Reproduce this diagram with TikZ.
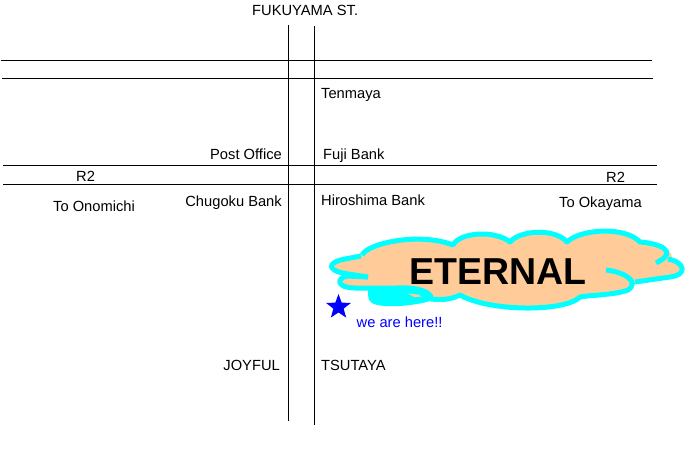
\documentclass[tikz,border=0pt]{standalone}
\usepackage{fontspec}
\setmainfont{Liberation Sans}
\usetikzlibrary{shapes.geometric}
\definecolor{peach}{RGB}{255,204,153}
\definecolor{aqua}{RGB}{0,255,255}
\definecolor{herebl}{RGB}{0,0,255}
\tikzset{
 road/.style={line width=1pt,black},
 lbl/.style={inner sep=0pt,anchor=base west,font=\fontsize{14.7}{16}\selectfont,text=black},
 lblr/.style={lbl,anchor=base east},
 rim/.style={draw=aqua,line width=5pt,line cap=butt,line join=round},
}
\begin{document}
\begin{tikzpicture}[x=1pt,y=-1pt]
\useasboundingbox (0,0) rectangle (697,474);
\fill[white] (0,0) rectangle (697,474);
% roads
\draw[road] (1,60.5) -- (652,60.5);
\draw[road] (2,78.5) -- (653,78.5);
\draw[road] (3,165.5) -- (657,165.5);
\draw[road] (3,184.5) -- (657,184.5);
\draw[road] (288.5,25) -- (288.5,421);
\draw[road] (314.5,26) -- (314.5,425);
% cloud body
\fill[peach] (345,273) .. controls (330,270) and (328,262) .. (345,259)
 -- (362,255) .. controls (368,243) and (420,232) .. (453,245)
 .. controls (460,232) and (495,230) .. (510,242)
 .. controls (520,230) and (555,228) .. (567,242)
 .. controls (580,229) and (625,226) .. (640,242)
 .. controls (655,243) and (672,248) .. (672,258)
 .. controls (685,262) and (688,275) .. (670,277)
 -- (635,283) .. controls (634,288) and (632,289) .. (628,290)
 .. controls (615,295) and (590,295) .. (580,297)
 .. controls (565,312) and (490,312) .. (460,295)
 .. controls (450,300) and (440,300) .. (431,298)
 .. controls (432,292) and (415,287) .. (397,288)
 -- (355,288) .. controls (338,288) and (335,280) .. (345,276) -- cycle;
% lump bottom left
\fill[aqua] (368,288) -- (398,287) .. controls (418,287) and (432,290) .. (433,300)
 .. controls (420,305) and (395,307) .. (385,306)
 .. controls (372,305) and (368,302) .. (368,295) -- cycle;
\fill[peach] (408,293.5) -- (418,294.5) -- (422,296.5) -- (414,297) -- cycle;
% cloud rims
\draw[rim] (368,277) -- (345,273.5) .. controls (326,270) and (328,262) .. (345,259)
 -- (361,256);
\draw[rim] (362,255) .. controls (368,243) and (420,232) .. (453,245)
 .. controls (460,232) and (495,230) .. (510,242)
 .. controls (520,230) and (555,228) .. (567,242)
 .. controls (580,229) and (625,226) .. (640,242)
 .. controls (655,243) and (682,250) .. (656,263);
\draw[rim] (668,259) .. controls (685,262) and (688,275) .. (670,277) -- (635,282);
\draw[rim] (606,270) .. controls (625,272) and (640,282) .. (628,290)
 .. controls (615,295) and (590,295) .. (580,297)
 .. controls (565,312) and (490,312) .. (460,295)
 .. controls (450,300) and (440,300) .. (431,299);
\draw[rim] (368,277) -- (347,276) .. controls (335,279) and (338,288) .. (355,288)
 -- (397,288) .. controls (415,287) and (432,291) .. (431,299);
% labels
\node[lbl] (fukuyama) at (252,15.5) {FUKUYAMA ST.};
\node[lbl] (tenmaya) at (321,98) {Tenmaya};
\node[lblr] (post) at (282,159) {Post Office};
\node[lbl] (fuji) at (323,159) {Fuji Bank};
\node[lbl] (r2l) at (76,181) {R2};
\node[lbl] (r2r) at (606,182) {R2};
\node[lbl] (onomichi) at (53,211) {To Onomichi};
\node[lblr] (chugoku) at (282,206) {Chugoku Bank};
\node[lbl] (hiroshima) at (321,205) {Hiroshima Bank};
\node[lbl] (okayama) at (559,207) {To Okayama};
\node[lblr] (joyful) at (280,370) {JOYFUL};
\node[lbl] (tsutaya) at (321,370) {TSUTAYA};
\node[lbl,font=\fontsize{37.5}{40}\selectfont\bfseries] (eternal) at (409.5,284) {ETERNAL};
\node[lbl,text=herebl] (here) at (356.5,327.5) {we are here!!};
\node[star,star points=5,star point ratio=2.4,fill=herebl,inner sep=0pt,minimum size=26pt] (starmark) at (338.5,307) {};
\end{tikzpicture}
\end{document}
